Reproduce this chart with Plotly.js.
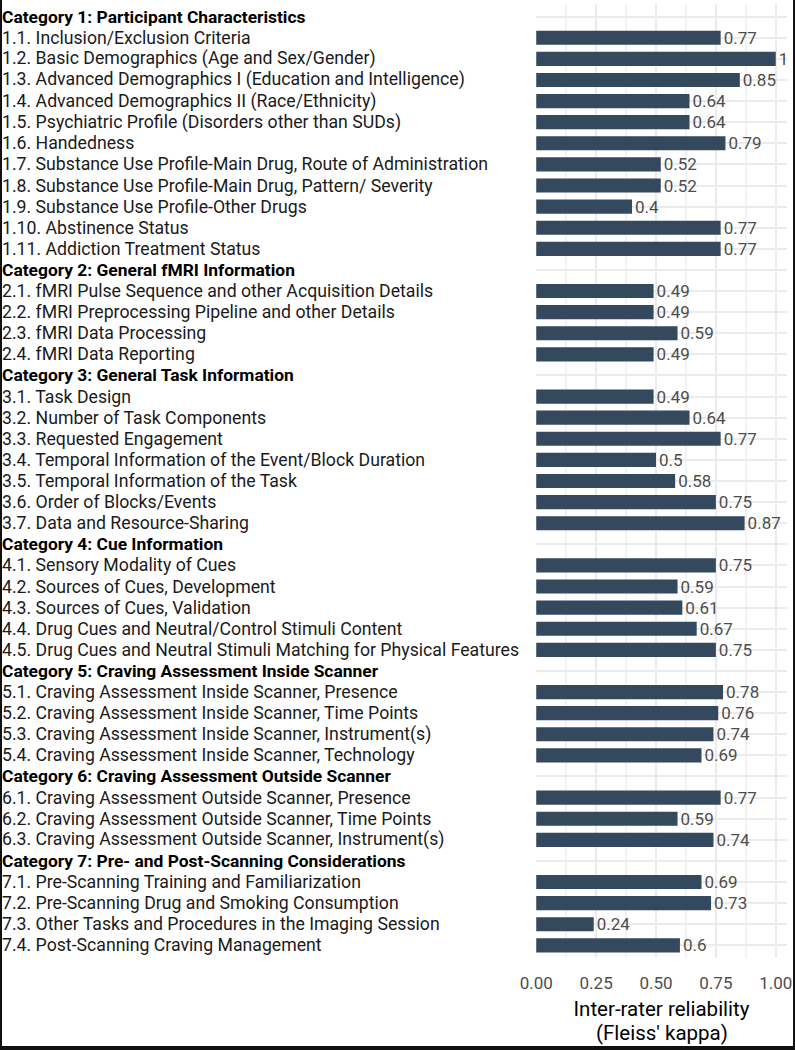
<!DOCTYPE html>
<html>
<head>
<meta charset="utf-8">
<script src="https://cdn.plot.ly/plotly-3.0.1.min.js"></script>
<style>
html,body{margin:0;padding:0;background:#fff;}
#wrap{position:relative;width:795px;height:1050px;overflow:hidden;}
#chart{position:absolute;left:0;top:0;width:795px;height:1050px;}
.edge{position:absolute;background:#111;}
</style>
</head>
<body>
<div id="wrap">
<div id="chart"></div>
<div class="edge" style="left:0;top:0;width:2px;height:1050px;"></div>
<div class="edge" style="left:793px;top:0;width:2px;height:1050px;"></div>
<div class="edge" style="left:0;top:1046px;width:795px;height:4px;"></div>
</div>
<script>
const categories = [
  "Category 1: Participant Characteristics",
  "Category 2: General fMRI Information",
  "Category 3: General Task Information",
  "Category 4: Cue Information",
  "Category 5: Craving Assessment Inside Scanner",
  "Category 6: Craving Assessment Outside Scanner",
  "Category 7: Pre- and Post-Scanning Considerations"
];
const items = [
  ["1.1. Inclusion/Exclusion Criteria",
   "1.2. Basic Demographics (Age and Sex/Gender)",
   "1.3. Advanced Demographics I (Education and Intelligence)",
   "1.4. Advanced Demographics II (Race/Ethnicity)",
   "1.5. Psychiatric Profile (Disorders other than SUDs)",
   "1.6. Handedness",
   "1.7. Substance Use Profile-Main Drug, Route of Administration",
   "1.8. Substance Use Profile-Main Drug, Pattern/ Severity",
   "1.9. Substance Use Profile-Other Drugs",
   "1.10. Abstinence Status",
   "1.11. Addiction Treatment Status"],
  ["2.1. fMRI Pulse Sequence and other Acquisition Details",
   "2.2. fMRI Preprocessing Pipeline and other Details",
   "2.3. fMRI Data Processing",
   "2.4. fMRI Data Reporting"],
  ["3.1. Task Design",
   "3.2. Number of Task Components",
   "3.3. Requested Engagement",
   "3.4. Temporal Information of the Event/Block Duration",
   "3.5. Temporal Information of the Task",
   "3.6. Order of Blocks/Events",
   "3.7. Data and Resource-Sharing"],
  ["4.1. Sensory Modality of Cues",
   "4.2. Sources of Cues, Development",
   "4.3. Sources of Cues, Validation",
   "4.4. Drug Cues and Neutral/Control Stimuli Content",
   "4.5. Drug Cues and Neutral Stimuli Matching for Physical Features"],
  ["5.1. Craving Assessment Inside Scanner, Presence",
   "5.2. Craving Assessment Inside Scanner, Time Points",
   "5.3. Craving Assessment Inside Scanner, Instrument(s)",
   "5.4. Craving Assessment Inside Scanner, Technology"],
  ["6.1. Craving Assessment Outside Scanner, Presence",
   "6.2. Craving Assessment Outside Scanner, Time Points",
   "6.3. Craving Assessment Outside Scanner, Instrument(s)"],
  ["7.1. Pre-Scanning Training and Familiarization",
   "7.2. Pre-Scanning Drug and Smoking Consumption",
   "7.3. Other Tasks and Procedures in the Imaging Session",
   "7.4. Post-Scanning Craving Management"]
];
const kappa = [
  [0.77, 1, 0.85, 0.64, 0.64, 0.79, 0.52, 0.52, 0.4, 0.77, 0.77],
  [0.49, 0.49, 0.59, 0.49],
  [0.49, 0.64, 0.77, 0.5, 0.58, 0.75, 0.87],
  [0.75, 0.59, 0.61, 0.67, 0.75],
  [0.78, 0.76, 0.74, 0.69],
  [0.77, 0.59, 0.74],
  [0.69, 0.73, 0.24, 0.6]
];
const xTicks = [0, 0.25, 0.5, 0.75, 1];
const xTickText = ["0.00", "0.25", "0.50", "0.75", "1.00"];
const axisTitle = ["Inter-rater reliability", "(Fleiss' kappa)"];

const rows = [], vals = [], isHead = [];
categories.forEach((c, i) => {
  rows.push(c); vals.push(null); isHead.push(true);
  items[i].forEach((it, j) => { rows.push(it); vals.push(kappa[i][j]); isHead.push(false); });
});

const W = 795, H = 1050, L = 536, R = 8, T = 4, B = 92;
const plotW = W - L - R, plotH = H - T - B;
const FONT = "Roboto, 'Noto Sans', sans-serif";

const annotations = rows.map((r, k) => ({
  xref: 'paper', yref: 'y',
  x: (0 - L) / plotW, y: r,
  xanchor: 'left', yanchor: 'middle',
  text: isHead[k] ? '<b>' + r + '</b>' : r,
  showarrow: false,
  font: {family: FONT, size: isHead[k] ? 17.4 : 17.7, color: isHead[k] ? '#000000' : '#1a1a1a'}
}));
annotations.push({
  xref: 'paper', yref: 'paper', x: 0.5, y: (H - B - 1033) / plotH,
  xanchor: 'center', yanchor: 'middle', showarrow: false,
  text: axisTitle[1],
  font: {family: FONT, size: 20.5, color: '#000000'}
});

const trace = {
  type: 'bar', orientation: 'h',
  y: rows, x: vals,
  marker: {color: '#34495e'},
  width: 0.67,
  text: vals.map(v => v === null ? '' : String(v)),
  textposition: 'outside',
  constraintext: 'none',
  cliponaxis: false,
  textfont: {family: FONT, size: 17, color: '#4d4d4d'},
  hoverinfo: 'none'
};

const layout = {
  width: W, height: H,
  margin: {l: L, r: R, t: T, b: B, pad: 0},
  paper_bgcolor: '#ffffff', plot_bgcolor: '#ffffff',
  showlegend: false,
  xaxis: {
    range: [-0.001, 1.047],
    tickvals: xTicks, ticktext: xTickText,
    showgrid: true, gridcolor: '#ebebeb', gridwidth: 2,
    minor: {dtick: 0.125, tick0: 0.125, showgrid: true, gridcolor: '#f2f2f2', gridwidth: 1.5},
    zeroline: false, showline: false, ticks: '',
    ticklabelstandoff: 13,
    tickfont: {family: FONT, size: 17, color: '#4d4d4d'},
    title: {text: axisTitle[0], font: {family: FONT, size: 20.5, color: '#000000'}, standoff: 9},
    fixedrange: true
  },
  yaxis: {
    type: 'category',
    categoryorder: 'array', categoryarray: rows,
    range: [rows.length - 1 + 0.6, -0.6],
    showticklabels: false, ticks: '',
    showgrid: true, gridcolor: '#ebebeb', gridwidth: 2,
    zeroline: false, showline: false,
    fixedrange: true
  },
  annotations: annotations
};

Plotly.newPlot('chart', [trace], layout, {displayModeBar: false, staticPlot: true});
</script>
</body>
</html>
